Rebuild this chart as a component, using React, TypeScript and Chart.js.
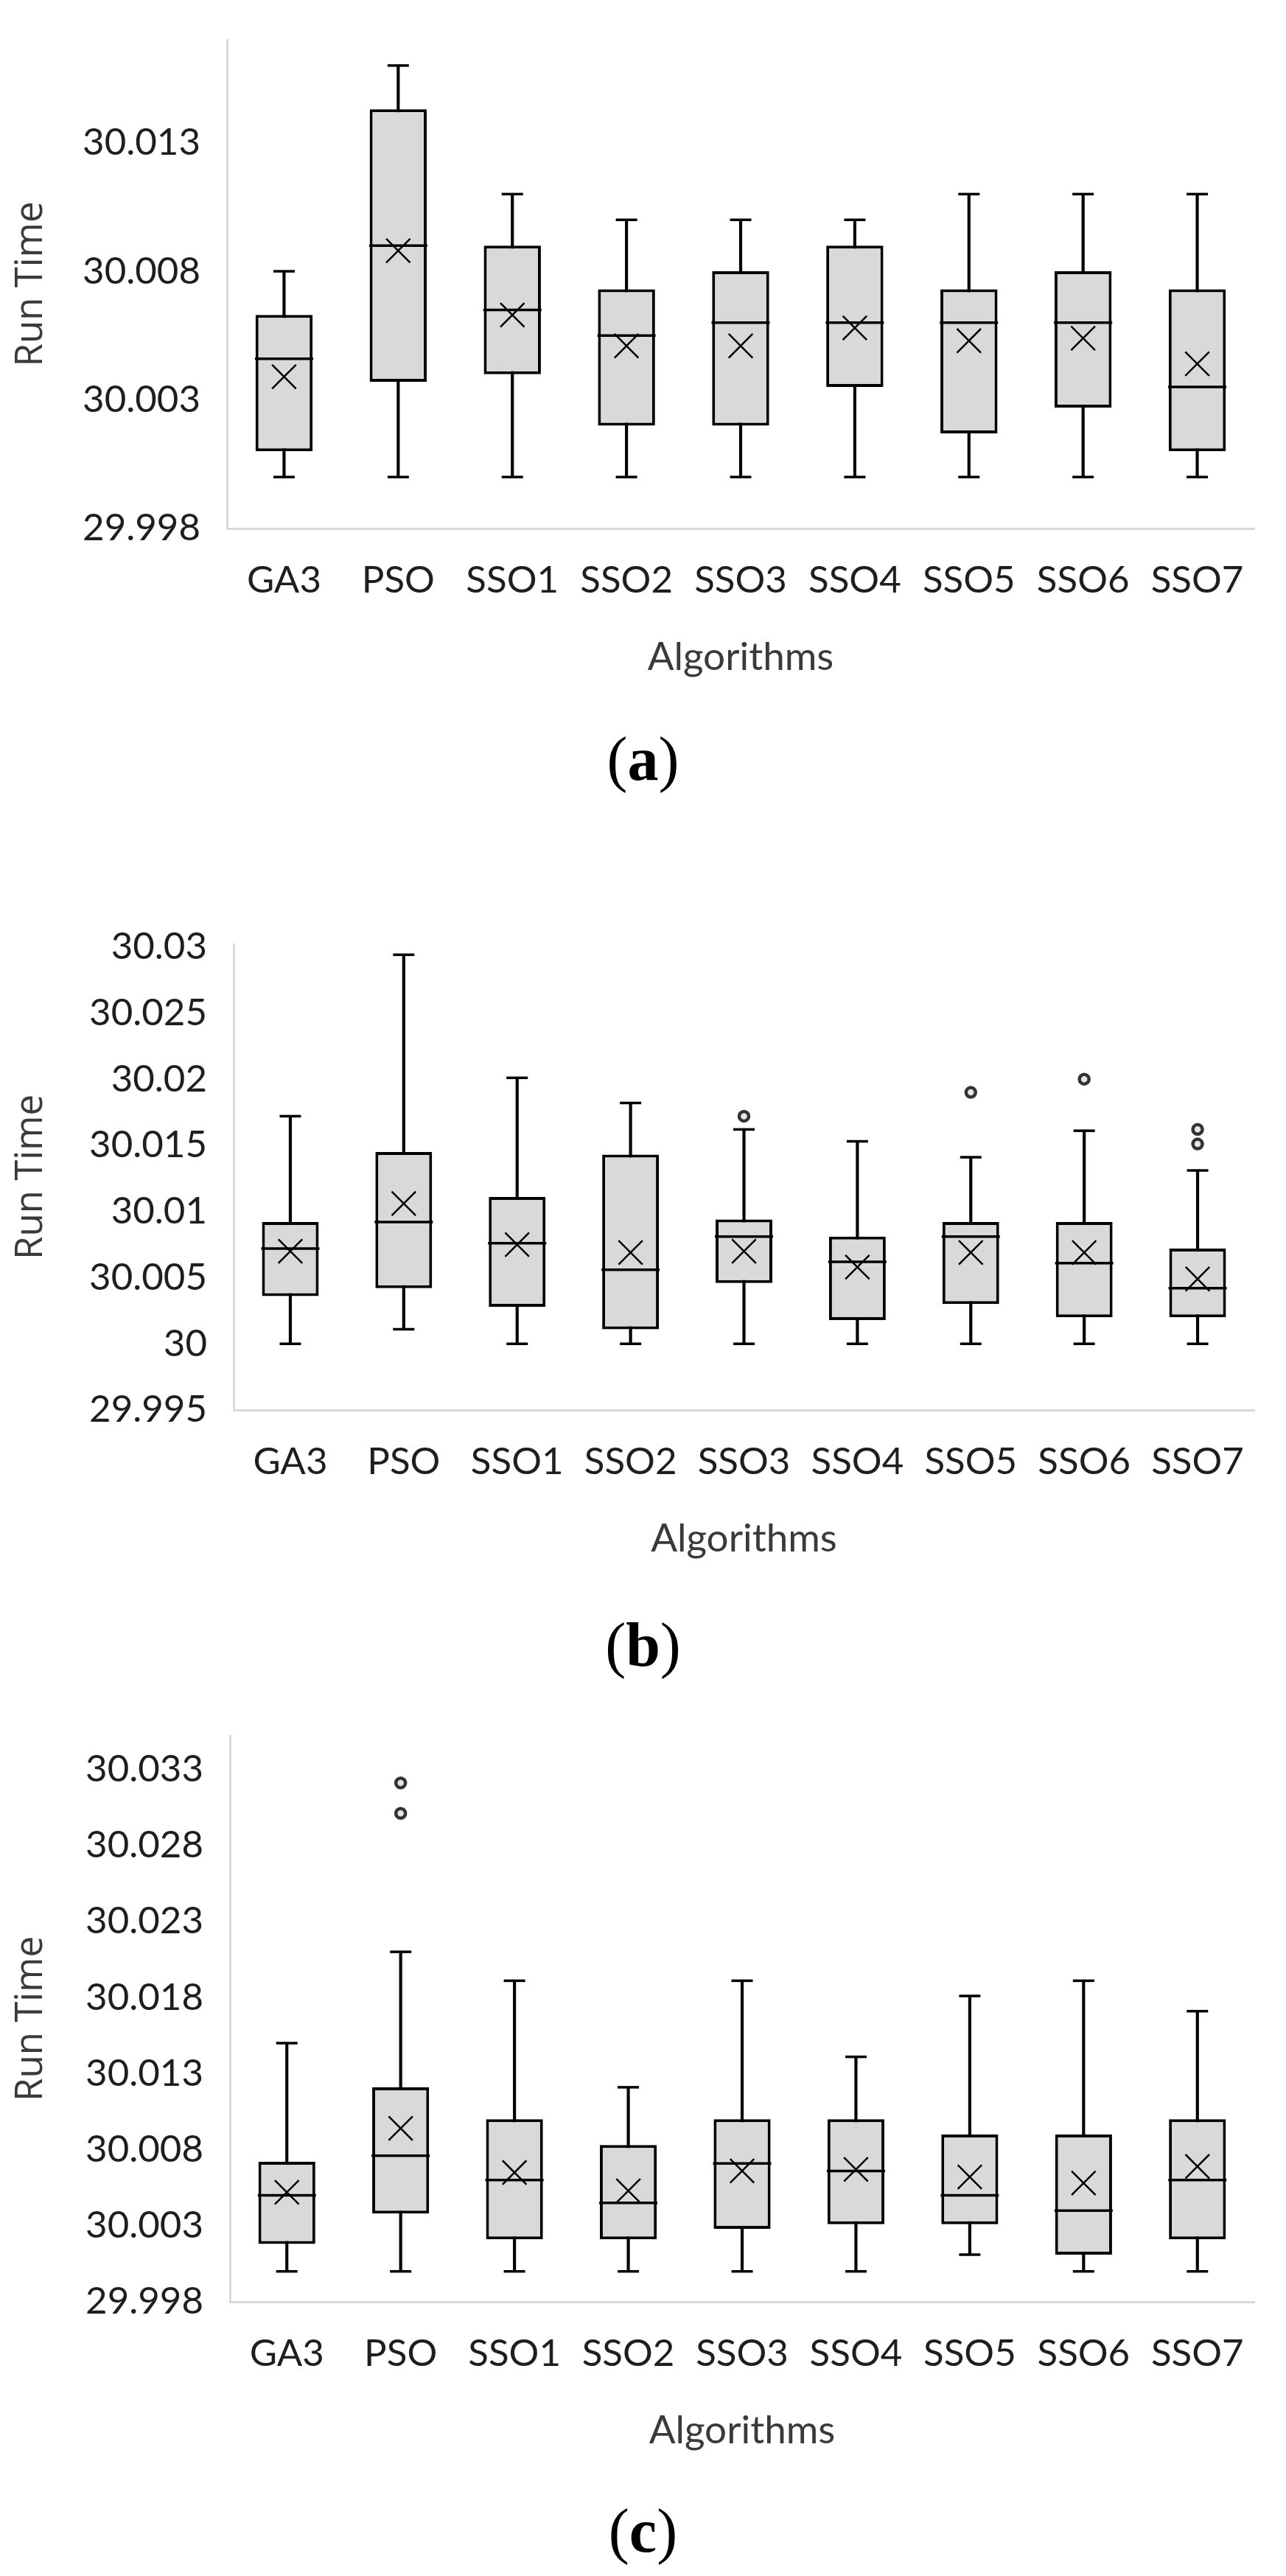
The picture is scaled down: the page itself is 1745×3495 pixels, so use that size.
import React, { useEffect, useRef } from 'react';
import { Chart, registerables } from 'chart.js';

Chart.register(...registerables);

// ---------- data ----------
const categories = ['GA3', 'PSO', 'SSO1', 'SSO2', 'SSO3', 'SSO4', 'SSO5', 'SSO6', 'SSO7'];

// (a)
const aMin = [30.0, 30.0, 30.0, 30.0, 30.0, 30.0, 30.0, 30.0, 30.0];
const aQ1 = [30.001, 30.0037, 30.004, 30.002, 30.002, 30.0035, 30.0017, 30.0027, 30.001];
const aMedian = [30.0046, 30.009, 30.0065, 30.0055, 30.006, 30.006, 30.006, 30.006, 30.0035];
const aQ3 = [30.0063, 30.0143, 30.009, 30.0073, 30.008, 30.009, 30.0073, 30.008, 30.0073];
const aMax = [30.008, 30.016, 30.011, 30.01, 30.01, 30.01, 30.011, 30.011, 30.011];
const aMean = [30.0039, 30.0088, 30.0063, 30.0051, 30.0051, 30.0058, 30.0053, 30.0054, 30.0044];
const aOutliers: { x: string; y: number }[] = [];
const aTickValues = [29.998, 30.003, 30.008, 30.013];
const aTickLabels = ['29.998', '30.003', '30.008', '30.013'];

// (b)
const bMin = [30.0, 30.0011, 30.0, 30.0, 30.0, 30.0, 30.0, 30.0, 30.0];
const bQ1 = [30.0036, 30.0042, 30.0028, 30.0011, 30.0046, 30.0018, 30.003, 30.002, 30.002];
const bMedian = [30.0072, 30.0092, 30.0076, 30.0056, 30.0081, 30.0062, 30.0081, 30.0061, 30.0042];
const bQ3 = [30.0092, 30.0145, 30.0111, 30.0143, 30.0094, 30.0081, 30.0092, 30.0092, 30.0072];
const bMax = [30.0172, 30.0294, 30.0201, 30.0182, 30.0162, 30.0153, 30.0141, 30.0161, 30.0131];
const bMean = [30.007, 30.0106, 30.0075, 30.0069, 30.007, 30.0058, 30.0069, 30.0069, 30.0049];
const bOutliers = [
  { x: 'SSO3', y: 30.0172 },
  { x: 'SSO5', y: 30.019 },
  { x: 'SSO6', y: 30.02 },
  { x: 'SSO7', y: 30.0162 },
  { x: 'SSO7', y: 30.0151 },
];
const bTickValues = [29.995, 30.0, 30.005, 30.01, 30.015, 30.02, 30.025, 30.03];
const bTickLabels = ['29.995', '30', '30.005', '30.01', '30.015', '30.02', '30.025', '30.03'];

// (c)
const cMin = [30.0, 30.0, 30.0, 30.0, 30.0, 30.0, 30.0011, 30.0, 30.0];
const cQ1 = [30.0018, 30.0038, 30.0021, 30.0021, 30.0028, 30.0031, 30.0031, 30.0011, 30.0021];
const cMedian = [30.005, 30.0076, 30.006, 30.0045, 30.0071, 30.0066, 30.005, 30.004, 30.006];
const cQ3 = [30.0072, 30.0121, 30.01, 30.0083, 30.01, 30.01, 30.009, 30.009, 30.01];
const cMax = [30.015, 30.021, 30.0191, 30.0121, 30.0191, 30.0141, 30.0181, 30.0191, 30.0171];
const cMean = [30.0052, 30.0094, 30.0065, 30.0053, 30.0066, 30.0067, 30.0062, 30.0058, 30.0069];
const cOutliers = [
  { x: 'PSO', y: 30.0321 },
  { x: 'PSO', y: 30.0301 },
];
const cTickValues = [29.998, 30.003, 30.008, 30.013, 30.018, 30.023, 30.028, 30.033];
const cTickLabels = ['29.998', '30.003', '30.008', '30.013', '30.018', '30.023', '30.028', '30.033'];

// ---------- layout / style ----------
const PAGE_W = 1745;
const PAD_TOP = 10;
const X_AXIS_H = 207;
const TICK_COLOR = '#1e1e1e';
const TITLE_COLOR = '#3a3a3a';

type Panel = {
  min: number[];
  q1: number[];
  median: number[];
  q3: number[];
  max: number[];
  mean: number[];
  outliers: { x: string; y: number }[];
  tickValues: number[];
  tickLabels: string[];
  yMin: number;
  yMax: number;
  caption: string;
};

type Frame = { top: number; bottom: number; left: number; right: number; captionY: number };

const panels: { panel: Panel; frame: Frame }[] = [
  {
    panel: { min: aMin, q1: aQ1, median: aMedian, q3: aQ3, max: aMax, mean: aMean, outliers: aOutliers,
      tickValues: aTickValues, tickLabels: aTickLabels, yMin: 29.998, yMax: 30.017, caption: 'a' },
    frame: { top: 21, bottom: 717, left: 308, right: 1731, captionY: 1030 },
  },
  {
    panel: { min: bMin, q1: bQ1, median: bMedian, q3: bQ3, max: bMax, mean: bMean, outliers: bOutliers,
      tickValues: bTickValues, tickLabels: bTickLabels, yMin: 29.995, yMax: 30.0302, caption: 'b' },
    frame: { top: 1248, bottom: 1913, left: 317, right: 1732, captionY: 2232 },
  },
  {
    panel: { min: cMin, q1: cQ1, median: cMedian, q3: cQ3, max: cMax, mean: cMean, outliers: cOutliers,
      tickValues: cTickValues, tickLabels: cTickLabels, yMin: 29.998, yMax: 30.0352, caption: 'c' },
    frame: { top: 2322, bottom: 3123, left: 312, right: 1731, captionY: 3434 },
  },
];

function BoxChart({ panel, frame }: { panel: Panel; frame: Frame }) {
  const ref = useRef<HTMLCanvasElement>(null);
  const canvasTop = frame.top - PAD_TOP;
  const height = frame.bottom - frame.top + PAD_TOP + X_AXIS_H;

  useEffect(() => {
    if (!ref.current) return;
    const pointLine = (label: string, data: number[], radius: number, width: number, order: number) => ({
      type: 'line' as const,
      label,
      data,
      showLine: false,
      pointStyle: 'line',
      pointRadius: radius,
      pointBorderWidth: width,
      pointBorderColor: '#000',
      pointBackgroundColor: '#000',
      order,
    });
    const chart = new Chart(ref.current, {
      type: 'bar',
      data: {
        labels: categories,
        datasets: [
          {
            type: 'line',
            label: 'Mean',
            data: panel.mean,
            showLine: false,
            pointStyle: 'crossRot',
            pointRadius: 23,
            pointBorderWidth: 2.5,
            pointBorderColor: '#000',
            pointBackgroundColor: 'rgba(0,0,0,0)',
            order: 0,
          } as any,
          pointLine('Median', panel.median, 39.5, 3.5, 1) as any,
          pointLine('Max', panel.max, 14.5, 3.5, 2) as any,
          pointLine('Min', panel.min, 14.5, 3.5, 2) as any,
          {
            type: 'line',
            label: 'Outliers',
            data: panel.outliers as any,
            showLine: false,
            pointStyle: 'circle',
            pointRadius: 6.5,
            pointBorderWidth: 4.5,
            pointBorderColor: '#333',
            pointBackgroundColor: '#e6e6e6',
            order: 2,
          } as any,
          {
            type: 'bar',
            label: 'Box',
            data: categories.map((_, i) => [panel.q1[i], panel.q3[i]]) as any,
            backgroundColor: '#d9d9d9',
            borderColor: '#000',
            borderWidth: 4,
            borderSkipped: false,
            grouped: false,
            barPercentage: 0.5,
            categoryPercentage: 1,
            order: 3,
          } as any,
          {
            type: 'bar',
            label: 'Whisker',
            data: categories.map((_, i) => [panel.min[i], panel.max[i]]) as any,
            backgroundColor: '#000',
            borderWidth: 0,
            grouped: false,
            barThickness: 3.5,
            order: 4,
          } as any,
        ],
      },
      options: {
        responsive: false,
        animation: false,
        devicePixelRatio: 1,
        events: [],
        layout: { padding: { top: PAD_TOP, right: PAGE_W - frame.right, bottom: 0, left: 0 } },
        plugins: {
          legend: { display: false },
          tooltip: { enabled: false },
          title: { display: false },
        },
        scales: {
          x: {
            type: 'category',
            offset: true,
            grid: { display: false, drawTicks: false },
            border: { display: true, color: '#d9d9d9', width: 3 },
            ticks: {
              color: TICK_COLOR,
              font: { family: 'Lato', size: 51 },
              padding: 40,
              maxRotation: 0,
              autoSkip: false,
            },
            title: {
              display: true,
              text: 'Algorithms',
              color: TITLE_COLOR,
              font: { family: 'Lato', size: 53 },
              padding: { top: 0, bottom: 0 },
            },
            afterFit: (s: any) => {
              s.height = X_AXIS_H;
              s.paddingLeft = 0;
              s.paddingRight = 0;
            },
          },
          y: {
            type: 'linear',
            min: panel.yMin,
            max: panel.yMax,
            grid: { display: false, drawTicks: false },
            border: { display: true, color: '#d9d9d9', width: 3 },
            afterBuildTicks: (s: any) => {
              s.ticks = panel.tickValues.map((v) => ({ value: v }));
            },
            ticks: {
              color: TICK_COLOR,
              font: { family: 'Lato', size: 51 },
              padding: 36,
              autoSkip: false,
              callback: (_v: any, i: number) => panel.tickLabels[i],
            },
            title: {
              display: true,
              text: 'Run Time',
              color: TITLE_COLOR,
              font: { family: 'Open Sans', size: 51 },
              padding: { top: 12, bottom: 0 },
            },
            afterFit: (s: any) => {
              s.width = frame.left;
              s.paddingTop = 0;
              s.paddingBottom = 0;
            },
          },
        },
      } as any,
    });
    return () => chart.destroy();
  }, [panel, frame]);

  return (
    <>
      <canvas
        ref={ref}
        width={PAGE_W}
        height={height}
        style={{ position: 'absolute', left: 0, top: canvasTop, width: PAGE_W, height }}
      />
      <div
        style={{
          position: 'absolute',
          left: 0,
          width: PAGE_W,
          top: frame.captionY,
          transform: 'translateY(-50%)',
          textAlign: 'center',
          fontFamily: '"Liberation Serif", serif',
          fontSize: 84,
          lineHeight: 1,
          color: '#000',
        }}
      >
        (<b>{panel.caption}</b>)
      </div>
    </>
  );
}

export default function App() {
  return (
    <div style={{ position: 'absolute', left: 0, top: 0, width: PAGE_W, height: 3495, background: '#fff' }}>
      {panels.map((p, i) => (
        <BoxChart key={i} panel={p.panel} frame={p.frame} />
      ))}
    </div>
  );
}
